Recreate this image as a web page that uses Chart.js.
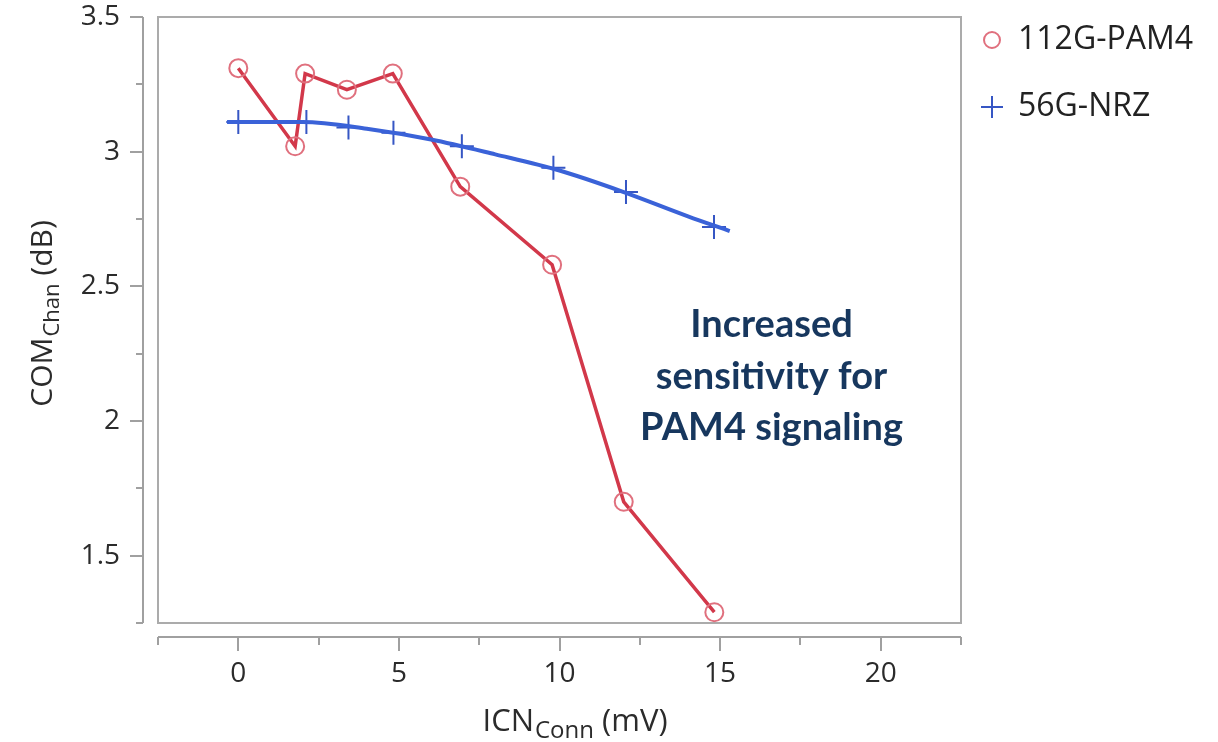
<!DOCTYPE html>
<html>
<head>
<meta charset="utf-8">
<script src="https://cdn.jsdelivr.net/npm/chart.js"></script>
<style>
  html, body { margin: 0; padding: 0; background: #fff; }
</style>
</head>
<body>
<canvas id="com-chart" width="1218" height="742"></canvas>
<script>
// values
const pam4X = [0, 1.77, 2.08, 3.38, 4.81, 6.91, 9.77, 12.0, 14.82]
const pam4Y = [3.31, 3.02, 3.29, 3.23, 3.29, 2.87, 2.58, 1.70, 1.29]
const nrzX = [0, 2.12, 3.43, 4.83, 6.96, 9.81, 12.07, 14.81]
const nrzY = [3.11, 3.11, 3.09, 3.07, 3.02, 2.94, 2.85, 2.72]
// the smooth NRZ trend line runs a little past the first and last marker
const nrzFitX = [-0.35, 2, 4, 6, 8, 10, 12, 14, 15.3]
const nrzFitY = [3.11, 3.11, 3.085, 3.045, 2.99, 2.93, 2.85, 2.76, 2.705]
const seriesNames = ['112G-PAM4', '56G-NRZ']
const xTitle = ['ICN', 'Conn', ' (mV)']
const yTitle = ['COM', 'Chan', ' (dB)']
const noteLines = ['Increased', 'sensitivity for', 'PAM4 signaling']

const FONT = '"Open Sans", "Noto Sans", sans-serif'
const RED = '#d2384a'
const RED_MARK = '#e0707e'
const BLUE = '#3a62d8'
const BLUE_MARK = '#3656c4'

const toPoints = (xs, ys) => xs.map((x, i) => ({ x: x, y: ys[i] }))

function isMajor(v, step) {
  const r = v / step
  return Math.abs(r - Math.round(r)) < 1e-6
}

function fixScale(size) {
  return scale => {
    if (scale.isHorizontal()) scale.height = size
    else scale.width = size
    scale.paddingTop = 0
    scale.paddingBottom = 0
    scale.paddingLeft = 0
    scale.paddingRight = 0
  }
}

// box round the plot plus the detached axes with their tick marks
const frame = {
  id: 'frame',
  beforeDatasetsDraw(chart) {
    const { ctx, chartArea: a, scales } = chart
    ctx.save()
    ctx.strokeStyle = '#ababab'
    ctx.lineWidth = 2
    ctx.strokeRect(a.left, a.top, a.right - a.left, a.bottom - a.top)

    ctx.strokeStyle = '#a0a0a0'
    const ax = a.left - 15
    ctx.beginPath()
    ctx.moveTo(ax, a.top)
    ctx.lineTo(ax, a.bottom)
    scales.y.ticks.forEach(t => {
      const py = Math.round(scales.y.getPixelForValue(t.value))
      ctx.moveTo(ax, py)
      ctx.lineTo(ax - (t.label ? 13 : 7), py)
    })
    const ay = a.bottom + 14
    ctx.moveTo(a.left, ay)
    ctx.lineTo(a.right, ay)
    scales.x.ticks.forEach(t => {
      const px = Math.round(scales.x.getPixelForValue(t.value))
      ctx.moveTo(px, ay)
      ctx.lineTo(px, ay + (t.label ? 14 : 8))
    })
    ctx.stroke()
    ctx.restore()
  }
}

function drawSubText(ctx, parts, x, y, bigSize, smallSize) {
  const big = bigSize + 'px ' + FONT
  const small = smallSize + 'px ' + FONT
  ctx.font = big
  const w0 = ctx.measureText(parts[0]).width
  const w2 = ctx.measureText(parts[2]).width
  ctx.font = small
  const w1 = ctx.measureText(parts[1]).width
  let cx = x - (w0 + w1 + w2) / 2
  ctx.textAlign = 'left'
  ctx.textBaseline = 'alphabetic'
  ctx.font = big
  ctx.fillText(parts[0], cx, y)
  cx += w0 + 1
  ctx.font = small
  ctx.fillText(parts[1], cx, y + 7)
  cx += w1
  ctx.font = big
  ctx.fillText(parts[2], cx, y)
}

// axis titles with subscripts, the note and the legend
const labels = {
  id: 'labels',
  afterDraw(chart) {
    const { ctx, chartArea: a, scales } = chart
    ctx.save()
    ctx.fillStyle = '#2b2b2b'
    drawSubText(ctx, xTitle, (a.left + a.right) / 2 + 15, 731, 31, 24)

    ctx.save()
    ctx.translate(52, (a.top + a.bottom) / 2 - 6)
    ctx.rotate(-Math.PI / 2)
    drawSubText(ctx, yTitle, 0, 0, 30, 22)
    ctx.restore()

    ctx.fillStyle = '#17375e'
    ctx.font = 'bold 38px Lato, ' + FONT
    ctx.textAlign = 'center'
    ctx.textBaseline = 'alphabetic'
    const nx = scales.x.getPixelForValue(16.6)
    const ny = scales.y.getPixelForValue(2.3) - 3
    noteLines.forEach((line, i) => ctx.fillText(line, nx, ny + i * 51.5))

    // legend
    const lx = a.right + 31
    const rows = [40, 107]
    ctx.lineWidth = 2
    ctx.strokeStyle = RED_MARK
    ctx.beginPath()
    ctx.arc(lx, rows[0], 8, 0, Math.PI * 2)
    ctx.stroke()
    ctx.strokeStyle = BLUE_MARK
    ctx.beginPath()
    ctx.moveTo(lx - 11, rows[1])
    ctx.lineTo(lx + 11, rows[1])
    ctx.moveTo(lx, rows[1] - 11)
    ctx.lineTo(lx, rows[1] + 11)
    ctx.stroke()
    ctx.fillStyle = '#222'
    ctx.font = '32px ' + FONT
    ctx.textAlign = 'left'
    ctx.textBaseline = 'middle'
    seriesNames.forEach((name, i) => ctx.fillText(name, lx + 26, rows[i]))
    ctx.restore()
  }
}

new Chart(document.getElementById('com-chart'), {
  type: 'line',
  data: {
    datasets: [
      {
        label: seriesNames[1] + ' trend',
        data: toPoints(nrzFitX, nrzFitY),
        borderColor: BLUE,
        borderWidth: 4,
        pointRadius: 0,
        tension: 0.4,
        cubicInterpolationMode: 'monotone'
      },
      {
        label: seriesNames[1],
        data: toPoints(nrzX, nrzY),
        showLine: false,
        pointStyle: 'cross',
        pointRadius: 12,
        pointBorderColor: BLUE_MARK,
        pointBorderWidth: 2
      },
      {
        label: seriesNames[0],
        data: toPoints(pam4X, pam4Y),
        borderColor: RED,
        borderWidth: 3.5,
        pointStyle: 'circle',
        pointRadius: 9,
        pointBorderColor: RED_MARK,
        pointBackgroundColor: 'rgba(255,255,255,0)',
        pointBorderWidth: 2,
        tension: 0
      }
    ]
  },
  options: {
    responsive: false,
    animation: false,
    events: [],
    layout: { padding: { top: 17, right: 257, left: 0, bottom: 0 } },
    plugins: {
      legend: { display: false },
      tooltip: { enabled: false }
    },
    scales: {
      x: {
        type: 'linear',
        min: -2.5,
        max: 22.5,
        grid: { display: false, drawTicks: false },
        border: { display: false },
        afterFit: fixScale(119),
        ticks: {
          stepSize: 2.5,
          autoSkip: false,
          maxRotation: 0,
          padding: 34,
          color: '#2b2b2b',
          font: { family: FONT, size: 28 },
          callback: v => isMajor(v, 5) ? String(v) : ''
        }
      },
      y: {
        type: 'linear',
        min: 1.25,
        max: 3.5,
        grid: { display: false, drawTicks: false },
        border: { display: false },
        afterFit: fixScale(158),
        ticks: {
          stepSize: 0.25,
          autoSkip: false,
          padding: 38,
          color: '#2b2b2b',
          font: { family: FONT, size: 28 },
          callback: v => isMajor(v, 0.5) ? String(Math.round(v * 10) / 10) : ''
        }
      }
    }
  },
  plugins: [frame, labels]
})
</script>
</body>
</html>
